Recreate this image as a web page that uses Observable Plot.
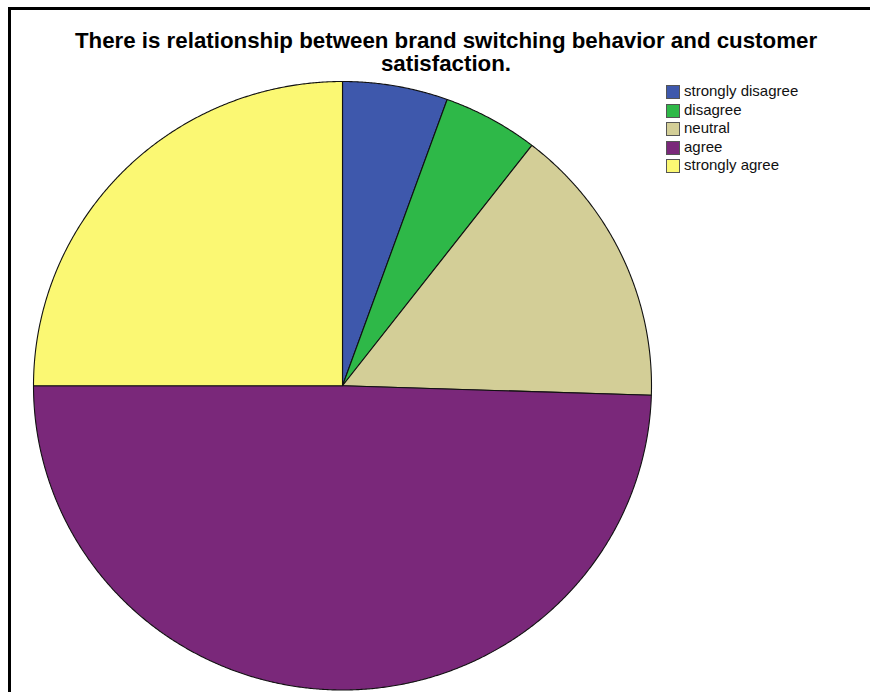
<!DOCTYPE html>
<html>
<head>
<meta charset="utf-8">
<script src="https://cdn.jsdelivr.net/npm/d3@7"></script>
<script src="https://cdn.jsdelivr.net/npm/@observablehq/plot@0.6"></script>
<style>
  html, body { margin: 0; padding: 0; background: #fff; }
  #wrap { position: relative; width: 870px; height: 692px; overflow: hidden; font-family: "Liberation Sans", Arial, sans-serif; }
  #frame { position: absolute; left: 8px; top: 7px; width: 1000px; height: 1000px; border-left: 3px solid #000; border-top: 3px solid #000; }
  #title { position: absolute; left: 46px; width: 800px; top: 29px; text-align: center; font-weight: bold; font-size: 22.3px; line-height: 23px; color: #000; }
  #chart { position: absolute; left: 0; top: 0; }
  .lg { position: absolute; left: 666px; }
  .sw { position: absolute; left: 0; width: 12px; height: 12px; border: 1px solid #555; }
  .lt { position: absolute; left: 18px; top: -3px; font-size: 15px; white-space: nowrap; color: #111; line-height: 18px; }
</style>
</head>
<body>
<div id="wrap">
  <div id="frame"></div>
  <div id="chart"></div>
  <div id="title">There is relationship between brand switching behavior and customer<br>satisfaction.</div>
  <div id="legend"></div>
</div>
<script>
const categories = ["strongly disagree", "disagree", "neutral", "agree", "strongly agree"];
const counts = [11, 10, 30, 99, 50];
const colors = ["#3E58AC", "#2EB848", "#D3CE97", "#7A287A", "#FBF873"];

// Build slice outlines (in unit-circle data space) from the counts
const total = d3.sum(counts);
const pts = [];
let cum = 0;
categories.forEach((c, i) => {
  const a0 = cum / total * 2 * Math.PI;
  cum += counts[i];
  const a1 = cum / total * 2 * Math.PI;
  pts.push({cat: c, x: 0, y: 0});
  const n = Math.max(4, Math.ceil((a1 - a0) / 0.005));
  for (let k = 0; k <= n; k++) {
    const a = a0 + (a1 - a0) * k / n;
    pts.push({cat: c, x: Math.sin(a), y: Math.cos(a)});
  }
  pts.push({cat: c, x: 0, y: 0});
});

const plot = Plot.plot({
  width: 870,
  height: 692,
  margin: 0,
  x: {domain: [-1, 1], range: [33, 651], axis: null},
  y: {domain: [-1, 1], range: [689.5, 81], axis: null},
  color: {domain: categories, range: colors},
  style: {background: "transparent"},
  marks: [
    Plot.line(pts, {x: "x", y: "y", z: "cat", fill: "cat", stroke: "#111", strokeWidth: 1.1, curve: "linear", strokeLinejoin: "round"})
  ]
});
document.getElementById("chart").appendChild(plot);

// Legend
const legend = document.getElementById("legend");
categories.forEach((c, i) => {
  const row = document.createElement("div");
  row.className = "lg";
  row.style.top = (85 + i * 18.5) + "px";
  const sw = document.createElement("div");
  sw.className = "sw";
  sw.style.background = colors[i];
  const t = document.createElement("div");
  t.className = "lt";
  t.textContent = c;
  row.appendChild(sw);
  row.appendChild(t);
  legend.appendChild(row);
});
</script>
</body>
</html>
